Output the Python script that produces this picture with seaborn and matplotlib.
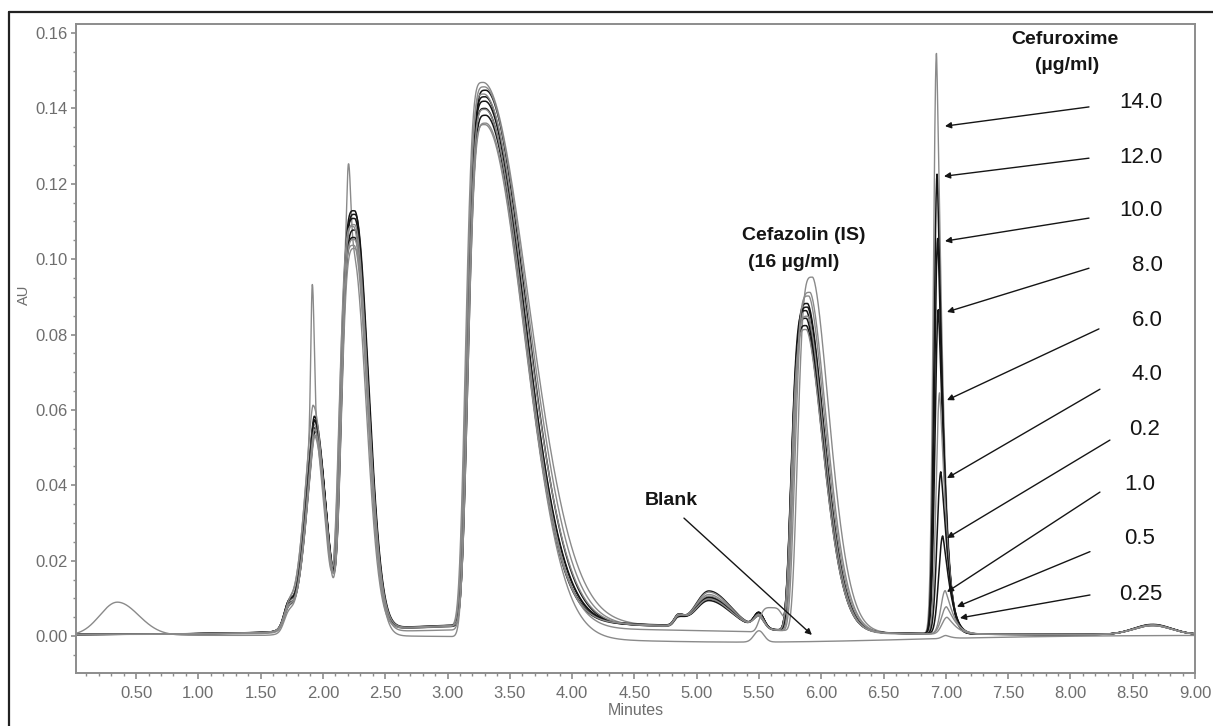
import matplotlib
matplotlib.use("Agg")
import matplotlib.pyplot as plt
from matplotlib.lines import Line2D
from matplotlib.ticker import FixedLocator, MultipleLocator
import numpy as np
import pandas as pd
import seaborn as sns

# ── traces (order: calibration standards, then blank) ─────────────────────
TRACE_NAMES = ["14.0", "12.0", "10.0", "8.0", "6.0", "4.0", "2.0", "1.0", "0.5", "0.25", "Blank"]

# baseline level and slow drift (AU), drift centre (min)
baseline_au = [0.0004, 0.0004, 0.0004, 0.0004, 0.0004, 0.0004, 0.0004, 0.0004, 0.0004, 0.0004, 0.0002]
drift_au    = [0.0028, 0.0030, 0.0027, 0.0029, 0.0026, 0.0031, 0.0028, 0.0027, 0.0030, 0.0015, -0.0018]
drift_rt    = [3.9, 3.9, 3.9, 3.9, 3.9, 3.9, 3.9, 3.9, 3.9, 3.9, 5.4]
rt_shift    = [-0.015, 0.0, 0.005, 0.0, -0.005, 0.005, 0.0, -0.01, 0.005, 0.0, 0.0]

# matrix peaks: retention time, widths, shape exponents
PEAK_RT      = [0.35, 1.72, 1.93, 1.93, 2.255, 2.22, 3.30, 4.85, 5.10, 5.50, 5.60, 8.66]
PEAK_W_LEFT  = [0.14, 0.035, 0.065, 0.012, 0.105, 0.015, 0.13, 0.03, 0.11, 0.04, 0.09, 0.15]
PEAK_W_RIGHT = [0.17, 0.035, 0.09, 0.015, 0.105, 0.018, 0.32, 0.05, 0.17, 0.04, 0.09, 0.15]
PEAK_P_LEFT  = [2, 2, 1.5, 2, 4, 2, 4, 2, 2, 2, 4, 2]
PEAK_P_RIGHT = [2, 2, 2, 2, 2, 2, 2, 2, 2, 2, 4, 2]

# matrix peak heights per trace (AU)
au_035    = [0, 0, 0, 0, 0, 0, 0, 0, 0, 0, 0.0088]
au_172    = [0.004, 0.0045, 0.004, 0.005, 0.004, 0.0045, 0.005, 0.004, 0.0045, 0.004, 0.0035]
au_193    = [0.056, 0.056, 0.054, 0.057, 0.055, 0.053, 0.056, 0.060, 0.052, 0.054, 0.053]
spike_193 = [0.036, 0, 0, 0, 0, 0, 0, 0, 0, 0, 0]
au_225    = [0.100, 0.111, 0.106, 0.109, 0.102, 0.110, 0.104, 0.107, 0.101, 0.108, 0.105]
spike_222 = [0.024, 0, 0, 0, 0, 0, 0, 0, 0, 0, 0]
au_330    = [0.144, 0.140, 0.142, 0.137, 0.143, 0.135, 0.139, 0.141, 0.133, 0.138, 0.136]
w_right_330 = [0.36, 0.31, 0.32, 0.30, 0.34, 0.30, 0.31, 0.33, 0.30, 0.31, 0.31]
au_485    = [0.002, 0.0025, 0.002, 0.0025, 0.002, 0.0025, 0.002, 0.0022, 0.0025, 0.0, 0.0]
au_510    = [0.0088, 0.0075, 0.0098, 0.008, 0.0085, 0.007, 0.008, 0.0095, 0.0075, 0.0, 0.0]
au_550    = [0.0035, 0.004, 0.003, 0.004, 0.0035, 0.004, 0.004, 0.003, 0.0035, 0.0, 0.003]
au_560    = [0, 0, 0, 0, 0, 0, 0, 0, 0, 0.0065, 0]
au_866    = [0.0024, 0.0026, 0.0024, 0.0027, 0.0024, 0.0026, 0.0025, 0.0024, 0.0026, 0.0024, 0.0]

# cefazolin (IS)
cefazolin_rt = [5.93, 5.88, 5.89, 5.88, 5.91, 5.88, 5.89, 5.90, 5.88, 5.89, 5.92]
cefazolin_au = [0.094, 0.085, 0.087, 0.083, 0.090, 0.081, 0.086, 0.089, 0.080, 0.084, 0.0]

# cefuroxime
cefuroxime_rt = [6.925, 6.93, 6.935, 6.94, 6.95, 6.96, 6.975, 6.995, 7.005, 7.01, 7.0]
cefuroxime_au = [0.154, 0.122, 0.105, 0.086, 0.064, 0.043, 0.026, 0.0115, 0.0072, 0.0045, 0.0008]
cefuroxime_w_left  = [0.025, 0.025, 0.026, 0.027, 0.028, 0.03, 0.032, 0.035, 0.04, 0.04, 0.03]
cefuroxime_w_right = [0.035, 0.035, 0.036, 0.037, 0.038, 0.04, 0.042, 0.045, 0.05, 0.05, 0.03]

# concentration labels and arrows (label text, arrow tail, arrow tip)
CONC_LABELS = ["14.0", "12.0", "10.0", "8.0", "6.0", "4.0", "0.2", "1.0", "0.5", "0.25"]
label_t  = [8.742, 8.742, 8.742, 8.742, 8.742, 8.742, 8.718, 8.678, 8.678, 8.742]
label_au = [0.1417, 0.1271, 0.1128, 0.0984, 0.0838, 0.0695, 0.0549, 0.0403, 0.0260, 0.0111]
tail_t   = [8.149, 8.149, 8.149, 8.149, 8.229, 8.237, 8.317, 8.237, 8.157, 8.157]
tail_au  = [0.1404, 0.1268, 0.1109, 0.0976, 0.0815, 0.0655, 0.0520, 0.0382, 0.0224, 0.0109]
tip_t    = [6.993, 6.985, 6.993, 7.009, 7.009, 7.009, 7.009, 7.009, 7.089, 7.113]
tip_au   = [0.1353, 0.1220, 0.1048, 0.0860, 0.0626, 0.0419, 0.0260, 0.0117, 0.0078, 0.0048]

# ── styles ────────────────────────────────────────────────────────────────
BLACK = "#151515"
GRAY = "#8a8a8a"
TRACE_COLORS = [GRAY, BLACK, BLACK, BLACK, GRAY, BLACK, BLACK, GRAY, GRAY, GRAY, GRAY]
AXIS_GRAY = "#8c8c8c"
TICK_TEXT = "#6e6e6e"

X_MIN, X_MAX = 0.018, 9.0
Y_MIN, Y_MAX = -0.0098, 0.1624


def peak(t, rt, height, w_left, w_right, p_left=2.0, p_right=2.0):
    dt = t - rt
    z = np.where(dt < 0, np.abs(dt) / w_left, dt / w_right)
    p = np.where(dt < 0, p_left, p_right)
    return height * np.exp(-0.5 * z ** p)


def build_trace(i, t):
    sh = rt_shift[i]
    heights = [au_035[i], au_172[i], au_193[i], spike_193[i], au_225[i], spike_222[i],
               au_330[i], au_485[i], au_510[i], au_550[i], au_560[i], au_866[i]]
    shifted = {2, 3, 4, 5, 6}
    y = np.full_like(t, baseline_au[i])
    y += peak(t, drift_rt[i], drift_au[i], 1.3, 1.3)
    for k, h in enumerate(heights):
        if h == 0:
            continue
        rt = PEAK_RT[k] + (sh if k in shifted else 0.0)
        w_r = w_right_330[i] if k == 6 else PEAK_W_RIGHT[k]
        y += peak(t, rt, h, PEAK_W_LEFT[k], w_r, PEAK_P_LEFT[k], PEAK_P_RIGHT[k])
    y += peak(t, cefazolin_rt[i], cefazolin_au[i], 0.112, 0.135, 4, 1.7)
    y += peak(t, cefuroxime_rt[i], cefuroxime_au[i],
              cefuroxime_w_left[i], cefuroxime_w_right[i], 2, 1.3)
    return y


t = np.linspace(X_MIN, X_MAX, 6000)
frames = []
for i, name in enumerate(TRACE_NAMES):
    frames.append(pd.DataFrame({"minutes": t, "au": build_trace(i, t), "trace": name}))
df = pd.concat(frames, ignore_index=True)

sns.set_theme(style="white")
plt.rcParams["font.family"] = ["Liberation Sans", "DejaVu Sans"]

fig = plt.figure(figsize=(12.13, 7.26), dpi=100)
ax = fig.add_axes([76 / 1213, 1 - 673 / 726, (1195 - 76) / 1213, (673 - 24) / 726])

for i, name in enumerate(TRACE_NAMES):
    sub = df[df["trace"] == name]
    sns.lineplot(data=sub, x="minutes", y="au", ax=ax, color=TRACE_COLORS[i],
                 linewidth=1.1 if TRACE_COLORS[i] == BLACK else 1.0,
                 estimator=None, sort=False, legend=False)

ax.set_xlim(X_MIN, X_MAX)
ax.set_ylim(Y_MIN, Y_MAX)

x_ticks = np.arange(0.5, 9.01, 0.5)
y_ticks = np.arange(0.0, 0.161, 0.02)
ax.xaxis.set_major_locator(FixedLocator(x_ticks))
ax.yaxis.set_major_locator(FixedLocator(y_ticks))
ax.set_xticklabels([f"{v:.2f}" for v in x_ticks])
ax.set_yticklabels([f"{v:.2f}" for v in y_ticks])
ax.xaxis.set_minor_locator(MultipleLocator(0.1))
ax.yaxis.set_minor_locator(MultipleLocator(0.005))

ax.tick_params(axis="both", which="major", direction="out", color=AXIS_GRAY,
               labelcolor=TICK_TEXT, labelsize=12, width=1.2)
ax.tick_params(axis="both", which="minor", direction="out", color=AXIS_GRAY, width=1.0)
ax.tick_params(axis="x", which="major", length=4.5, pad=5, bottom=True)
ax.tick_params(axis="x", which="minor", length=2.5, bottom=True)
ax.tick_params(axis="y", which="major", length=3.5, pad=2.5, left=True)
ax.tick_params(axis="y", which="minor", length=2.0, left=True)

for sp in ax.spines.values():
    sp.set_visible(True)
    sp.set_color(AXIS_GRAY)
    sp.set_linewidth(1.4)

ax.set_xlabel("Minutes", fontsize=11.5, color=TICK_TEXT, labelpad=1)
ax.set_ylabel("")
fig.text(24 / 1213, 1 - 295 / 726, "AU", rotation=90, ha="center", va="center",
         fontsize=10.5, color=TICK_TEXT)

# concentration arrows and labels
for i, lab in enumerate(CONC_LABELS):
    ax.annotate("", xy=(tip_t[i], tip_au[i]), xytext=(tail_t[i], tail_au[i]),
                arrowprops=dict(arrowstyle="-|>", color=BLACK, lw=1.0,
                                mutation_scale=9, shrinkA=0, shrinkB=0))
    ax.text(label_t[i], label_au[i], lab, ha="right", va="center",
            fontsize=16, color=BLACK)

ax.text(7.956, 0.1584, "Cefuroxime", ha="center", va="center",
        fontsize=14, fontweight="bold", color=BLACK)
ax.text(7.97, 0.1515, "(µg/ml)", ha="center", va="center",
        fontsize=14, fontweight="bold", color=BLACK)
ax.text(5.364, 0.1064, "Cefazolin (IS)", ha="left", va="center",
        fontsize=14, fontweight="bold", color=BLACK)
ax.text(5.412, 0.0990, "(16 µg/ml)", ha="left", va="center",
        fontsize=14, fontweight="bold", color=BLACK)
ax.text(4.795, 0.0361, "Blank", ha="center", va="center",
        fontsize=14, fontweight="bold", color=BLACK)
ax.annotate("", xy=(5.925, 0.0003), xytext=(4.898, 0.0313),
            arrowprops=dict(arrowstyle="-|>", color=BLACK, lw=1.0,
                            mutation_scale=9, shrinkA=0, shrinkB=0))

# outer frame (left and top edges visible)
fx, fy = 9 / 1213, 1 - 12 / 726
fig.add_artist(Line2D([fx, fx], [0, fy], transform=fig.transFigure, color="#222222", lw=1.6))
fig.add_artist(Line2D([fx, 1], [fy, fy], transform=fig.transFigure, color="#222222", lw=1.6))

fig.savefig("out.png", dpi=100)
plt.close(fig)
